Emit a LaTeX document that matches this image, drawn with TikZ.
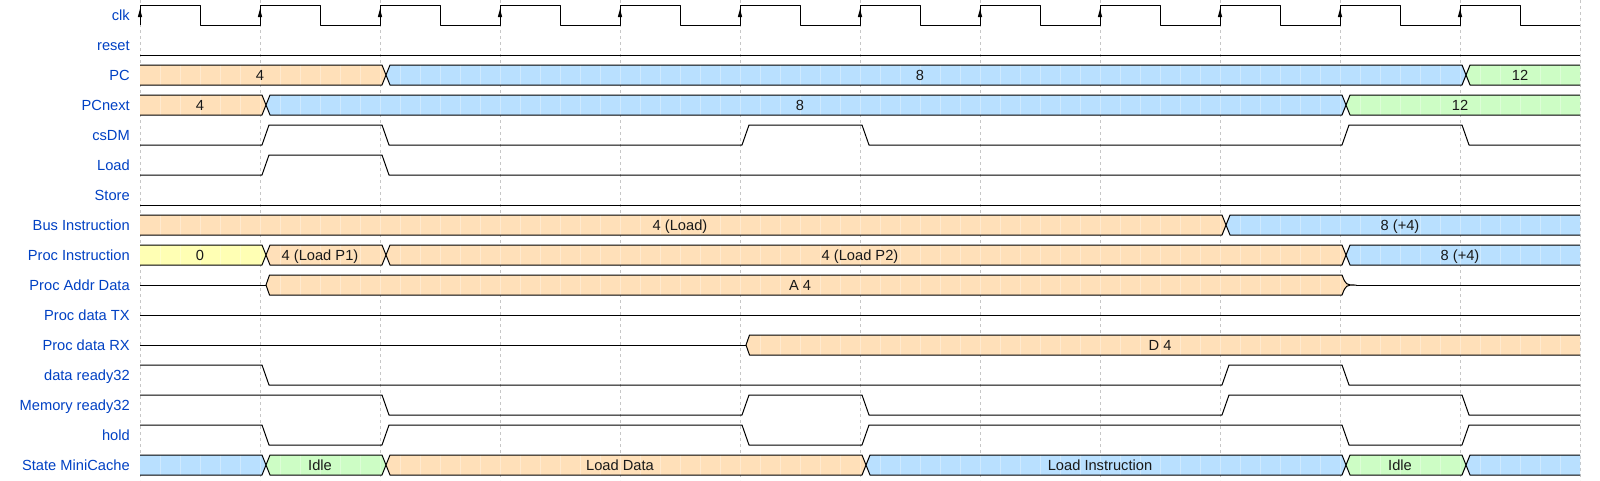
\documentclass[tikz,border=0pt]{standalone}
\usepackage{fontspec}
\setmainfont{Liberation Sans}
\definecolor{lblue}{HTML}{0041C4}
\definecolor{cyel}{HTML}{FFFFB4}
\definecolor{corg}{HTML}{FFE0B9}
\definecolor{cblu}{HTML}{B9E0FF}
\definecolor{cgrn}{HTML}{CDFDC5}
\tikzset{
  sig/.style={draw=black,line width=0.75pt,line join=round},
  gridl/.style={draw=black!22,line width=0.75pt,dash pattern=on 2.25pt off 2.25pt},
  lab/.style={text=lblue,font=\fontsize{11pt}{13pt}\selectfont,inner sep=0pt,anchor=base east},
  dtext/.style={text=black!90,font=\fontsize{11pt}{13pt}\selectfont,inner sep=0pt,anchor=base},
  subl/.style={draw=white,opacity=0.3,line width=0.75pt}
}
% row geometry
\newcommand{\rowgeo}[1]{%
  \pgfmathsetmacro\yt{5+30*#1}\pgfmathsetmacro\yb{25+30*#1}%
  \pgfmathsetmacro\ym{15+30*#1}\pgfmathsetmacro\ytx{20.5+30*#1}}
\newcommand{\sublines}{\foreach \xx in {160,180,...,1560}{\draw[subl] (\xx,\yt) -- (\xx,\yb);}}
% box with X on both sides
\newcommand{\dmid}[6]{%
  \rowgeo{#1}%
  \begin{scope}
  \fill[#4] (#2+6,\ym) -- (#2+10,\yt) -- (#3+2,\yt) -- (#3+6,\ym) -- (#3+2,\yb) -- (#2+10,\yb) -- cycle;
  \clip (#2+6,\ym) -- (#2+10,\yt) -- (#3+2,\yt) -- (#3+6,\ym) -- (#3+2,\yb) -- (#2+10,\yb) -- cycle;
  \sublines
  \end{scope}
  \draw[sig] (#2+6,\ym) -- (#2+10,\yt) -- (#3+2,\yt) -- (#3+6,\ym) -- (#3+2,\yb) -- (#2+10,\yb) -- cycle;
  \node[dtext] (#6) at ({(#2+#3)/2},\ytx) {#5};}
% first box (starts at 140)
\newcommand{\dfirst}[5]{%
  \rowgeo{#1}%
  \begin{scope}
  \fill[#3] (140,\yt) -- (#2+2,\yt) -- (#2+6,\ym) -- (#2+2,\yb) -- (140,\yb) -- cycle;
  \clip (140,\yt) -- (#2+2,\yt) -- (#2+6,\ym) -- (#2+2,\yb) -- (140,\yb) -- cycle;
  \sublines
  \end{scope}
  \draw[sig] (140,\yt) -- (#2+2,\yt) -- (#2+6,\ym) -- (#2+2,\yb) -- (140,\yb);
  \node[dtext] (#5) at ({(140+#2)/2},\ytx) {#4};}
% last box (ends at 1580)
\newcommand{\dlast}[5]{%
  \rowgeo{#1}%
  \begin{scope}
  \fill[#3] (#2+6,\ym) -- (#2+10,\yt) -- (1580,\yt) -- (1580,\yb) -- (#2+10,\yb) -- cycle;
  \clip (#2+6,\ym) -- (#2+10,\yt) -- (1580,\yt) -- (1580,\yb) -- (#2+10,\yb) -- cycle;
  \sublines
  \end{scope}
  \draw[sig] (1580,\yt) -- (#2+10,\yt) -- (#2+6,\ym) -- (#2+10,\yb) -- (1580,\yb);
  \node[dtext] (#5) at ({(1580+#2)/2},\ytx) {#4};}
\begin{document}
\begin{tikzpicture}[x=0.75pt,y=-0.75pt]
\useasboundingbox (0,0) rectangle (1600,480);
\fill[white] (0,0) rectangle (1600,480);
% grid
\foreach \k in {0,...,12}{\draw[gridl] ({140+120*\k},0) -- ({140+120*\k},480);}
% labels
\node[lab] (l0) at (130,20.5) {clk};
\node[lab] (l1) at (130,50.5) {reset};
\node[lab] (l2) at (130,80.5) {PC};
\node[lab] (l3) at (130,110.5) {PCnext};
\node[lab] (l4) at (130,140.5) {csDM};
\node[lab] (l5) at (130,170.5) {Load};
\node[lab] (l6) at (130,200.5) {Store};
\node[lab] (l7) at (130,230.5) {Bus Instruction};
\node[lab] (l8) at (130,260.5) {Proc Instruction};
\node[lab] (l9) at (130,290.5) {Proc Addr Data};
\node[lab] (l10) at (130,320.5) {Proc data TX};
\node[lab] (l11) at (130,350.5) {Proc data RX};
\node[lab] (l12) at (130,380.5) {data ready32};
\node[lab] (l13) at (130,410.5) {Memory ready32};
\node[lab] (l14) at (130,440.5) {hold};
\node[lab] (l15) at (130,470.5) {State MiniCache};
% clock
\draw[sig] (140,25) \foreach \k in {0,...,11}{ -- ({140+120*\k},5) -- ({200+120*\k},5) -- ({200+120*\k},25) -- ({260+120*\k},25)};
\foreach \k in {0,...,11}{\fill[black] ({140+120*\k-2.2},17) -- ({140+120*\k},9) -- ({140+120*\k+2.2},17) -- cycle;}
% reset, store, TX
\draw[sig] (140,55) -- (1580,55);
\draw[sig] (140,205) -- (1580,205);
\draw[sig] (140,315) -- (1580,315);
% PC
\dfirst{2}{380}{corg}{4}{pcA}
\dmid{2}{380}{1460}{cblu}{8}{pcB}
\dlast{2}{1460}{cgrn}{12}{pcC}
% PCnext
\dfirst{3}{260}{corg}{4}{pnA}
\dmid{3}{260}{1340}{cblu}{8}{pnB}
\dlast{3}{1340}{cgrn}{12}{pnC}
% csDM
\draw[sig] (140,145) -- (262,145) -- (269,125) -- (382,125) -- (389,145) -- (742,145) -- (749,125) -- (862,125) -- (869,145) -- (1342,145) -- (1349,125) -- (1462,125) -- (1469,145) -- (1580,145);
% Load
\draw[sig] (140,175) -- (262,175) -- (269,155) -- (382,155) -- (389,175) -- (1580,175);
% Bus Instruction
\dfirst{7}{1220}{corg}{4 (Load)}{biA}
\dlast{7}{1220}{cblu}{8 (+4)}{biB}
% Proc Instruction
\dfirst{8}{260}{cyel}{0}{piA}
\dmid{8}{260}{380}{corg}{4 (Load P1)}{piB}
\dmid{8}{380}{1340}{corg}{4 (Load P2)}{piC}
\dlast{8}{1340}{cblu}{8 (+4)}{piD}
% Proc Addr Data
\draw[sig] (140,285) -- (266,285);
\begin{scope}
\fill[corg] (266,285) -- (269.5,275) -- (1342,275) .. controls (1346,285) .. (1356,285) .. controls (1346,285) .. (1342,295) -- (269.5,295) -- cycle;
\clip (266,285) -- (269.5,275) -- (1342,275) .. controls (1346,285) .. (1356,285) .. controls (1346,285) .. (1342,295) -- (269.5,295) -- cycle;
\rowgeo{9}\sublines
\end{scope}
\draw[sig] (266,285) -- (269.5,275) -- (1342,275) .. controls (1346,285) .. (1356,285) .. controls (1346,285) .. (1342,295) -- (269.5,295) -- cycle;
\draw[sig] (1356,285) -- (1580,285);
\node[dtext] (adA) at (800,290.5) {A 4};
% Proc data RX
\draw[sig] (140,345) -- (746,345);
\begin{scope}
\fill[corg] (746,345) -- (749.5,335) -- (1580,335) -- (1580,355) -- (749.5,355) -- cycle;
\clip (746,345) -- (749.5,335) -- (1580,335) -- (1580,355) -- (749.5,355) -- cycle;
\rowgeo{11}\sublines
\end{scope}
\draw[sig] (1580,335) -- (749.5,335) -- (746,345) -- (749.5,355) -- (1580,355);
\node[dtext] (rxA) at (1160,350.5) {D 4};
% data ready32
\draw[sig] (140,365) -- (262,365) -- (269,385) -- (1222,385) -- (1229,365) -- (1342,365) -- (1349,385) -- (1580,385);
% Memory ready32
\draw[sig] (140,395) -- (382,395) -- (389,415) -- (742,415) -- (749,395) -- (862,395) -- (869,415) -- (1222,415) -- (1229,395) -- (1462,395) -- (1469,415) -- (1580,415);
% hold
\draw[sig] (140,425) -- (262,425) -- (269,445) -- (382,445) -- (389,425) -- (742,425) -- (749,445) -- (862,445) -- (869,425) -- (1342,425) -- (1349,445) -- (1462,445) -- (1469,425) -- (1580,425);
% State MiniCache
\dfirst{15}{260}{cblu}{}{smA}
\dmid{15}{260}{380}{cgrn}{Idle}{smB}
\dmid{15}{380}{860}{corg}{Load Data}{smC}
\dmid{15}{860}{1340}{cblu}{Load Instruction}{smD}
\dmid{15}{1340}{1460}{cgrn}{Idle}{smE}
\dlast{15}{1460}{cblu}{}{smF}
\end{tikzpicture}
\end{document}
